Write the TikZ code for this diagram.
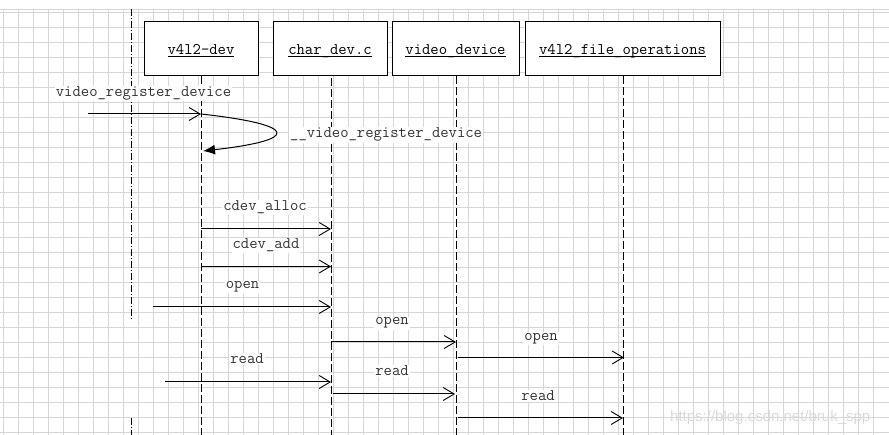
\documentclass[tikz,border=0pt]{standalone}
\usepackage{fontspec}
\newfontfamily\wmfont{Liberation Sans}
\usetikzlibrary{arrows.meta}
\definecolor{gridgray}{HTML}{D6D6D6}
\definecolor{labelgray}{HTML}{333333}
\definecolor{wmgray}{HTML}{DADADA}
\newcommand{\monof}{\ttfamily\fontsize{16.2}{18}\selectfont}
\newcommand{\ulbox}[1]{\underline{\smash{#1}}}
\tikzset{
  gridline/.style={draw=gridgray, line width=1pt},
  boxnode/.style={draw=black, fill=white, line width=1pt, inner sep=0pt,
    minimum height=54pt, text height=12pt, text depth=0pt, font=\monof},
  lifeline/.style={draw=black, line width=1pt, dash pattern=on 8pt off 3pt},
  dashdotline/.style={draw=black, line width=1pt, dash pattern=on 7pt off 2pt on 1pt off 2pt},
  msg/.style={draw=black, line width=1pt, -{Straight Barb[length=11pt,width=13pt,line width=0.9pt]}},
  selfmsg/.style={draw=black, line width=1pt, -{Latex[length=12pt,width=10pt]}},
  lbl/.style={fill=white, inner sep=1pt, text=labelgray, font=\monof, anchor=base},
}
\begin{document}
\begin{tikzpicture}[x=1pt,y=-1pt]
\useasboundingbox (0,0) rectangle (889,435);
\fill[white] (0,0) rectangle (889,435);
% grid
\foreach \x in {3.5,18.5,...,888} \draw[gridline] (\x,9.5) -- (\x,435);
\foreach \y in {13,28,...,435} \draw[gridline] (0,\y) -- (889,\y);
\draw[gridline] (0,9.5) -- (889,9.5);
% dash-dot boundary line
\coordinate (b1) at (131,9.5);
\coordinate (b2) at (131,321);
\coordinate (b3) at (131,418);
\coordinate (b4) at (131,435);
\draw[dashdotline] (b1) -- (b2);
\draw[dashdotline] (b3) -- (b4);
% boxes
\node[boxnode, minimum width=114pt] (dev) at (201,49) {\ulbox{v4l2-dev}};
\node[boxnode, minimum width=114pt] (chr) at (330,49) {\ulbox{char\_dev.c}};
\node[boxnode, minimum width=127pt] (vid) at (455.5,49) {\ulbox{video\_device}};
\node[boxnode, minimum width=195pt] (fop) at (622.5,49) {\ulbox{v4l2\_file\_operations}};
% lifeline ends
\coordinate (devE) at (201,435);
\coordinate (chrE) at (331,435);
\coordinate (vidE) at (456,435);
\coordinate (fopE) at (623,435);
\draw[lifeline] (dev.south) -- (devE);
\draw[lifeline] (331,78) coordinate (chrS) -- (chrE);
\draw[lifeline] (456,76) coordinate (vidS) -- (vidE);
\draw[lifeline] (623,76) coordinate (fopS) -- (fopE);
% message points
\coordinate (m1s) at (88,114);   \coordinate (m1e) at (201,114);
\coordinate (s1e) at (203,151);
\coordinate (m2s) at (201,229);  \coordinate (m2e) at (331,229);
\coordinate (m3s) at (201,266.5);\coordinate (m3e) at (331,266.5);
\coordinate (m4s) at (153,307);  \coordinate (m4e) at (331,307);
\coordinate (m5s) at (331,342);  \coordinate (m5e) at (456,342);
\coordinate (m6s) at (458,357.5);\coordinate (m6e) at (624,357.5);
\coordinate (m7s) at (165,382);  \coordinate (m7e) at (331,382);
\coordinate (m8s) at (333,394);  \coordinate (m8e) at (455,394);
\coordinate (m9s) at (458,418);  \coordinate (m9e) at (623,418);
% messages
\draw[msg] (m1s) -- (m1e);
\draw[selfmsg] (m1e) .. controls (300,125) and (300,140) .. (s1e);
\draw[msg] (m2s) -- (m2e);
\draw[msg] (m3s) -- (m3e);
\draw[msg] (m4s) -- (m4e);
\draw[msg] (m5s) -- (m5e);
\draw[msg] (m6s) -- (m6e);
\draw[msg] (m7s) -- (m7e);
\draw[msg] (m8s) -- (m8e);
\draw[msg] (m9s) -- (m9e);
% labels
\node[lbl] (l1) at (143.5,96.5) {video\_register\_device};
\node[lbl, anchor=base west] (l2) at (289,138) {\_\_video\_register\_device};
\node[lbl] (l3) at (265,211) {cdev\_alloc};
\node[lbl] (l4) at (266,249) {cdev\_add};
\node[lbl] (l5) at (242.5,289) {open};
\node[lbl] (l6) at (392,325) {open};
\node[lbl] (l7) at (541,340.5) {open};
\node[lbl] (l8) at (247,364) {read};
\node[lbl] (l9) at (392,376) {read};
\node[lbl] (l10) at (538,401) {read};
% watermark
\node[anchor=base west, inner sep=0pt, text=wmgray, font=\wmfont\fontsize{15}{15}\selectfont] (wm) at (670,421.5) {https://blog.csdn.net/bruk\_spp};
\end{tikzpicture}
\end{document}
